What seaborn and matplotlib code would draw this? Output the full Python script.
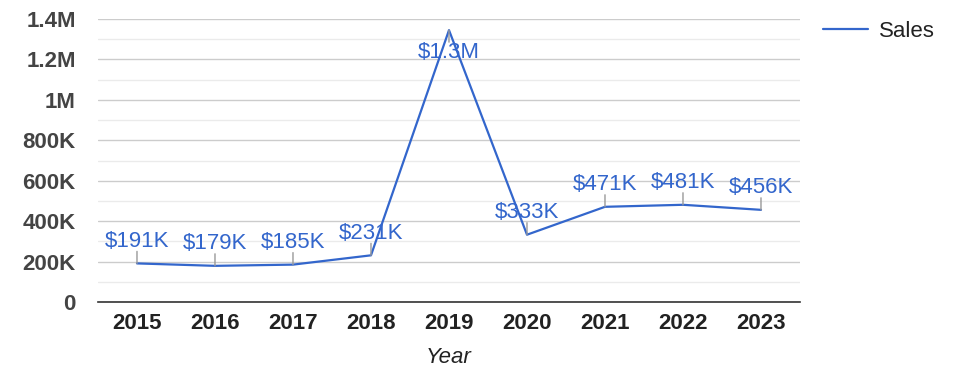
import numpy as np
import matplotlib
matplotlib.use("Agg")
import matplotlib.pyplot as plt
import pandas as pd
import seaborn as sns

years = ["2015", "2016", "2017", "2018", "2019", "2020", "2021", "2022", "2023"]
sales = [191000, 179000, 185000, 231000, 1345000, 333000, 471000, 481000, 456000]
labels = ["$191K", "$179K", "$185K", "$231K", "$1.3M", "$333K", "$471K", "$481K", "$456K"]
ytick_vals = [0, 200000, 400000, 600000, 800000, 1000000, 1200000, 1400000]
ytick_labels = ["0", "200K", "400K", "600K", "800K", "1M", "1.2M", "1.4M"]

sns.set_style("white")
plt.rcParams['font.family'] = ['Liberation Sans', 'DejaVu Sans']

df = pd.DataFrame({"Year": years, "Sales": sales})

fig = plt.figure(figsize=(9.75, 3.78), dpi=100)
ax = fig.add_axes([0.1005, 0.201, 0.72, 0.7487])

blue = "#3366cc"
fs = 16
sns.lineplot(data=df, x="Year", y="Sales", color=blue, lw=1.6, ax=ax, label="Sales", sort=False)

ax.set_xlim(-0.5, len(years) - 0.5)
ax.set_ylim(0, 1400000)
ax.set_yticks(ytick_vals)
ax.set_yticklabels(ytick_labels, fontsize=fs, fontweight="bold", color="#444444")
ax.set_yticks(np.arange(100000, 1400000, 200000), minor=True)
ax.tick_params(axis="y", which="both", length=0, pad=16)
ax.tick_params(axis="x", length=0, pad=8)
for t in ax.get_xticklabels():
    t.set_fontsize(fs)
    t.set_fontweight("bold")
    t.set_color("#222222")
ax.grid(axis="y", which="major", color="#cccccc", lw=1)
ax.grid(axis="y", which="minor", color="#ebebeb", lw=1)
ax.grid(axis="x", visible=False)
for s in ["top", "right", "left"]:
    ax.spines[s].set_visible(False)
ax.spines["bottom"].set_color("#333333")
ax.spines["bottom"].set_linewidth(1.2)
ax.set_axisbelow(True)

ax.set_xlabel("Year", fontsize=fs, fontstyle="italic", color="#222222", labelpad=9)
ax.set_ylabel("")

for i, (v, lab) in enumerate(zip(sales, labels)):
    d = -1 if i == 4 else 1
    ax.annotate("", xy=(i, v), xytext=(0, 12 * d), textcoords="offset pixels",
                arrowprops=dict(arrowstyle="-", color="#999999", lw=1, shrinkA=0, shrinkB=0))
    ax.annotate(lab, xy=(i, v), xytext=(0, 22 * d), textcoords="offset pixels",
                ha="center", va="center", fontsize=fs, color=blue)

leg = ax.legend(loc="upper left", bbox_to_anchor=(1.005, 1.065), frameon=False,
                fontsize=fs, handlelength=2.0, handletextpad=0.5)
for t in leg.get_texts():
    t.set_color("#222222")

fig.savefig("out.png", dpi=100)
